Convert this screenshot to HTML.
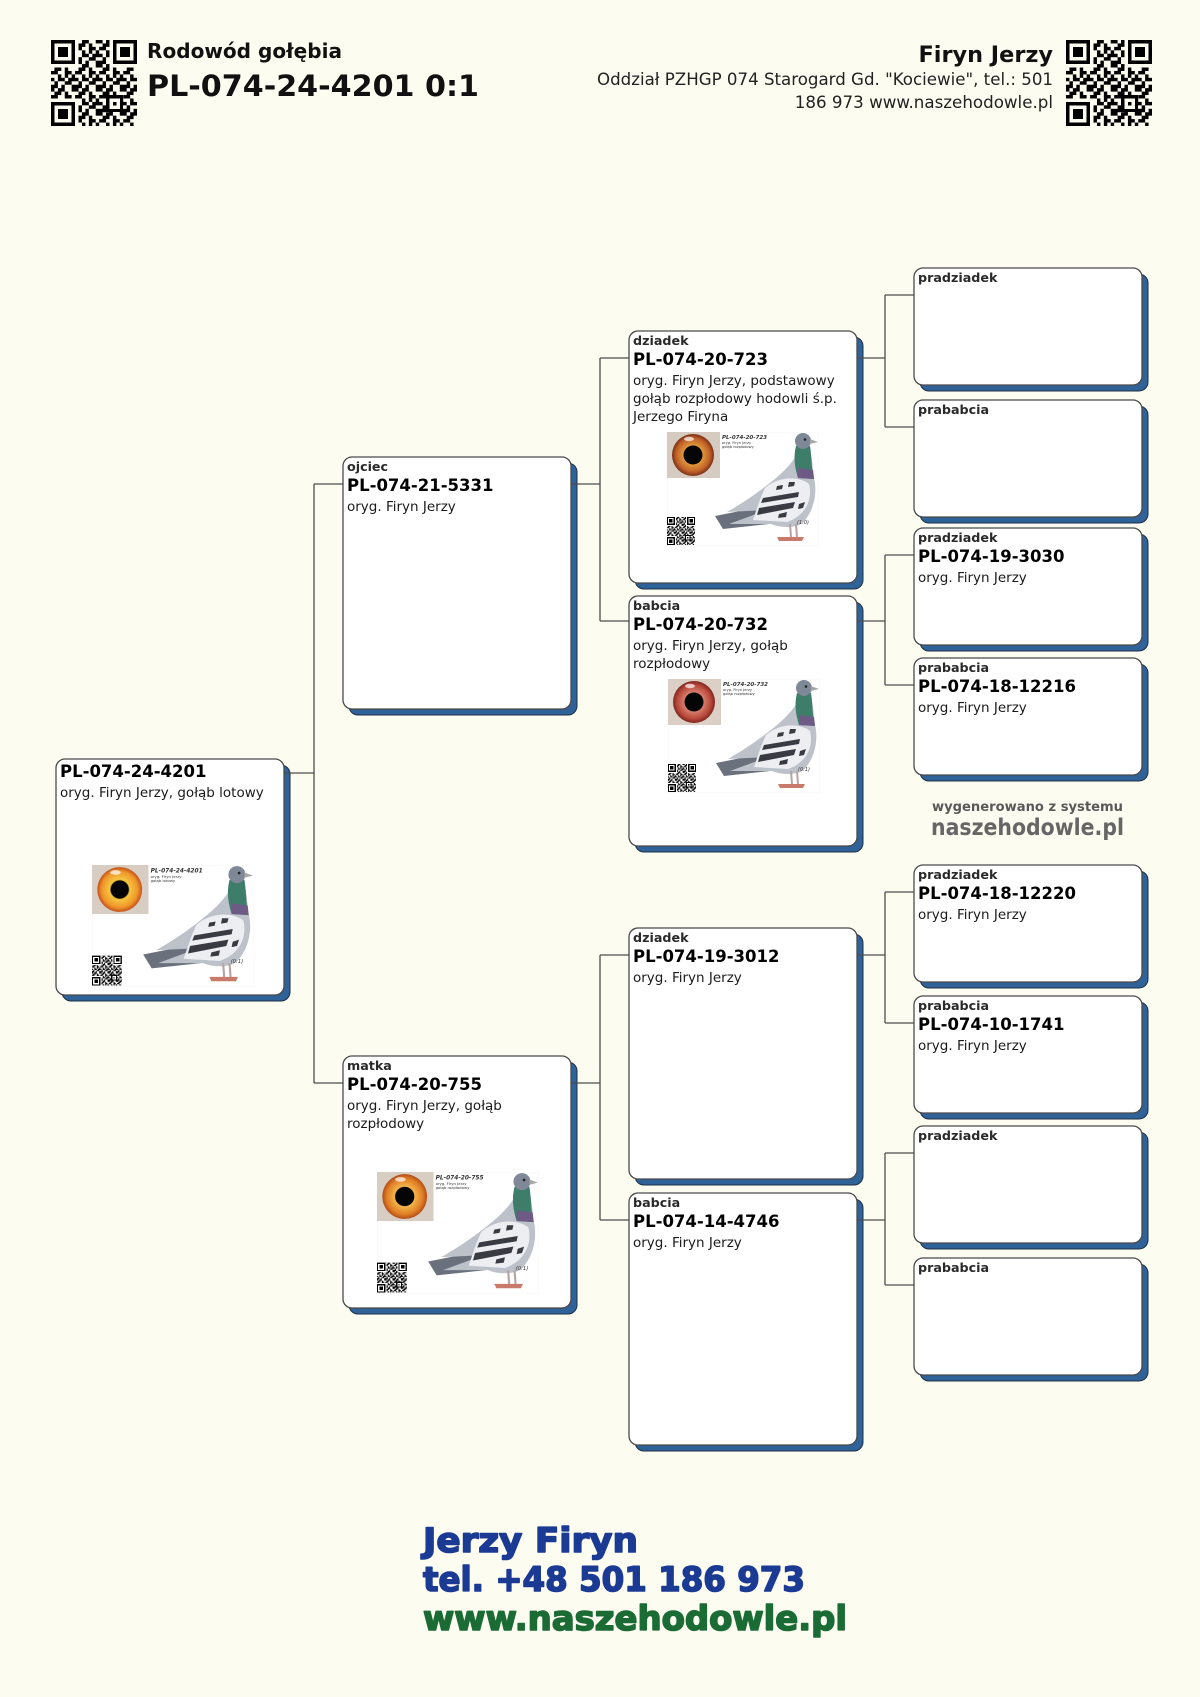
<!DOCTYPE html>
<html>
<head>
<meta charset="utf-8">
<style>
html,body{margin:0;padding:0;background:#fdfcf0;}
body{width:1200px;height:1697px;overflow:hidden;}
svg{display:block;}
.sh{fill:#30629a;stroke:#1c3047;stroke-width:1;}
.bx{fill:#ffffff;stroke:#4a4a4a;stroke-width:1.3;}
.cn{fill:none;stroke:#4d4d4d;stroke-width:1.3;}
.lb{font-family:"DejaVu Sans","Liberation Sans",sans-serif;font-weight:bold;font-size:12.7px;fill:#2a2a2a;}
.id{font-family:"DejaVu Sans","Liberation Sans",sans-serif;font-weight:bold;font-size:16.5px;fill:#000;}
.ds{font-family:"DejaVu Sans","Liberation Sans",sans-serif;font-size:13.5px;fill:#1a1a1a;}
.tn{font-family:"DejaVu Sans","Liberation Sans",sans-serif;fill:#333;}
</style>
</head>
<body>
<svg width="1200" height="1697" viewBox="0 0 1200 1697" xmlns="http://www.w3.org/2000/svg">
<defs>
  <pattern id="qrp" width="7" height="7" patternUnits="userSpaceOnUse">
    <path fill="#000" d="M0 0h1v1h-1z M2 0h2v1h-2z M6 0h1v1h-1z M1 1h2v1h-2z M4 1h1v1h-1z M0 2h2v1h-2z M4 2h2v1h-2z M2 3h1v1h-1z M4 3h1v1h-1z M6 3h1v1h-1z M0 4h1v1h-1z M2 4h2v1h-2z M5 4h2v1h-2z M1 5h1v1h-1z M4 5h2v1h-2z M0 6h2v1h-2z M3 6h1v1h-1z M6 6h1v1h-1z"/>
  </pattern>
  <symbol id="qr" viewBox="0 0 25 25" shape-rendering="crispEdges">
    <rect width="25" height="25" fill="url(#qrp)"/>
    <path d="M0 0h8v8h-8z M17 0h8v8h-8z M0 17h8v8h-8z" fill="currentColor"/>
    <path d="M0 0h7v7h-7z M18 0h7v7h-7z M0 18h7v7h-7z" fill="#000"/>
    <path d="M1 1h5v5h-5z M19 1h5v5h-5z M1 19h5v5h-5z" fill="currentColor"/>
    <path d="M2 2h3v3h-3z M20 2h3v3h-3z M2 20h3v3h-3z" fill="#000"/>
    <path d="M16 16h5v5h-5z" fill="#000"/>
    <path d="M17 17h3v3h-3z" fill="currentColor"/>
    <path d="M18 18h1v1h-1z" fill="#000"/>
  </symbol>
  <radialGradient id="irisA" cx="50%" cy="50%" r="50%">
    <stop offset="0.35" stop-color="#3a2a10"/>
    <stop offset="0.45" stop-color="#f4c640"/>
    <stop offset="0.8" stop-color="#f0962a"/>
    <stop offset="1" stop-color="#c4521a"/>
  </radialGradient>
  <radialGradient id="irisB" cx="50%" cy="50%" r="50%">
    <stop offset="0.35" stop-color="#2a1608"/>
    <stop offset="0.45" stop-color="#e09a3a"/>
    <stop offset="0.8" stop-color="#c0602a"/>
    <stop offset="1" stop-color="#7a3014"/>
  </radialGradient>
  <radialGradient id="irisC" cx="50%" cy="50%" r="50%">
    <stop offset="0.35" stop-color="#2a0e0a"/>
    <stop offset="0.45" stop-color="#d88070"/>
    <stop offset="0.8" stop-color="#b8483a"/>
    <stop offset="1" stop-color="#7e2620"/>
  </radialGradient>
  <radialGradient id="irisD" cx="50%" cy="50%" r="50%">
    <stop offset="0.35" stop-color="#2e1a08"/>
    <stop offset="0.45" stop-color="#f2b44a"/>
    <stop offset="0.8" stop-color="#e07e26"/>
    <stop offset="1" stop-color="#b24e18"/>
  </radialGradient>
  <symbol id="pigeon" viewBox="0 0 152 114">
    <rect x="0" y="0" width="152" height="114" fill="#fff" stroke="#eeeeee" stroke-width="0.6"/>
    <path d="M48 84 L98 74 L102 92 L56 97 Z" fill="#6b717c"/>
    <path d="M131 20 C124 34 112 44 99 54 C86 64 74 72 60 80 L100 78 L62 92 L104 92 C114 96 126 96 134 92 C146 82 151 62 147 46 C146 36 145 28 144 22 Z" fill="#bcc1ca"/>
    <path d="M98 56 C112 44 132 44 142 52 C146 68 138 84 120 90 L86 88 C90 76 94 64 98 56 Z" fill="#eceef2"/>
    <path d="M92 76 L128 70 L126 76 L90 83 Z M96 66 L132 60 L131 65 L94 71 Z M110 54 L116 53 L115 57 L109 58 Z M122 50 L128 50 L127 54 L121 55 Z M132 72 L138 70 L136 76 L131 77 Z M112 82 L120 80 L119 85 L111 86 Z" fill="#383b42"/>
    <path d="M129 14 C126 26 128 36 131 46 L147 47 C144 36 145 26 143 14 Z" fill="#3d7d69"/>
    <path d="M131 36 L146 38 L147 47 L131 46 Z" fill="#6d5b86"/>
    <circle cx="136" cy="9" r="8" fill="#7f8897"/>
    <path d="M143 7 L151 10 L143 12 Z" fill="#a8a8a8"/>
    <circle cx="138" cy="7.5" r="1.3" fill="#222"/>
    <path d="M123 92 L124 105 M129 92 L130 105" stroke="#b7a3a3" stroke-width="2"/>
    <path d="M110 105 L137 105 L135 109 L112 109 Z" fill="#c97a6b"/>
    <use href="#qr" x="0" y="85" width="28" height="28" color="#fff"/>
  </symbol>
</defs>

<rect x="0" y="0" width="1200" height="1697" fill="#fdfcf0"/>

<!-- Header -->
<use href="#qr" x="51" y="40" width="86" height="86" color="#fdfcf0"/>
<text x="147" y="58" font-family="DejaVu Sans, Liberation Sans, sans-serif" font-weight="bold" font-size="20" fill="#111" textLength="195" lengthAdjust="spacingAndGlyphs">Rodowód gołębia</text>
<text x="147" y="96" font-family="DejaVu Sans, Liberation Sans, sans-serif" font-weight="bold" font-size="29.5" fill="#111" textLength="332" lengthAdjust="spacingAndGlyphs">PL-074-24-4201 0:1</text>

<use href="#qr" x="1066" y="40" width="86" height="86" color="#fdfcf0"/>
<text x="1053" y="62" text-anchor="end" font-family="DejaVu Sans, Liberation Sans, sans-serif" font-weight="bold" font-size="22.4" fill="#111">Firyn Jerzy</text>
<text x="1053" y="85" text-anchor="end" font-family="DejaVu Sans, Liberation Sans, sans-serif" font-size="16.7" fill="#222" textLength="456" lengthAdjust="spacingAndGlyphs">Oddział PZHGP 074 Starogard Gd. "Kociewie", tel.: 501</text>
<text x="1053" y="108" text-anchor="end" font-family="DejaVu Sans, Liberation Sans, sans-serif" font-size="16.7" fill="#222">186 973 www.naszehodowle.pl</text>

<!-- Shadows -->
<rect class="sh" x="62" y="765" width="228" height="236" rx="9"/>
<rect class="sh" x="349" y="463" width="228" height="252" rx="9"/>
<rect class="sh" x="349" y="1062" width="228" height="252" rx="9"/>
<rect class="sh" x="635" y="337" width="228" height="252" rx="9"/>
<rect class="sh" x="635" y="602" width="228" height="250" rx="9"/>
<rect class="sh" x="635" y="934" width="228" height="251" rx="9"/>
<rect class="sh" x="635" y="1199" width="228" height="252" rx="9"/>
<rect class="sh" x="920" y="274" width="228" height="117" rx="9"/>
<rect class="sh" x="920" y="406" width="228" height="117" rx="9"/>
<rect class="sh" x="920" y="534" width="228" height="117" rx="9"/>
<rect class="sh" x="920" y="664" width="228" height="117" rx="9"/>
<rect class="sh" x="920" y="871" width="228" height="117" rx="9"/>
<rect class="sh" x="920" y="1002" width="228" height="117" rx="9"/>
<rect class="sh" x="920" y="1132" width="228" height="117" rx="9"/>
<rect class="sh" x="920" y="1264" width="228" height="117" rx="9"/>

<!-- Boxes -->
<rect class="bx" x="56" y="759" width="228" height="236" rx="9"/>
<rect class="bx" x="343" y="457" width="228" height="252" rx="9"/>
<rect class="bx" x="343" y="1056" width="228" height="252" rx="9"/>
<rect class="bx" x="629" y="331" width="228" height="252" rx="9"/>
<rect class="bx" x="629" y="596" width="228" height="250" rx="9"/>
<rect class="bx" x="629" y="928" width="228" height="251" rx="9"/>
<rect class="bx" x="629" y="1193" width="228" height="252" rx="9"/>
<rect class="bx" x="914" y="268" width="228" height="117" rx="9"/>
<rect class="bx" x="914" y="400" width="228" height="117" rx="9"/>
<rect class="bx" x="914" y="528" width="228" height="117" rx="9"/>
<rect class="bx" x="914" y="658" width="228" height="117" rx="9"/>
<rect class="bx" x="914" y="865" width="228" height="117" rx="9"/>
<rect class="bx" x="914" y="996" width="228" height="117" rx="9"/>
<rect class="bx" x="914" y="1126" width="228" height="117" rx="9"/>
<rect class="bx" x="914" y="1258" width="228" height="117" rx="9"/>

<!-- Connectors -->
<path class="cn" d="M284 773 H314 M314 484 V1083 M314 484 H343 M314 1083 H343"/>
<path class="cn" d="M571 484 H600 M600 358 V621 M600 358 H629 M600 621 H629"/>
<path class="cn" d="M571 1083 H600 M600 955 V1220 M600 955 H629 M600 1220 H629"/>
<path class="cn" d="M857 358 H885 M885 295 V427 M885 295 H914 M885 427 H914"/>
<path class="cn" d="M857 621 H885 M885 555 V685 M885 555 H914 M885 685 H914"/>
<path class="cn" d="M857 955 H885 M885 892 V1023 M885 892 H914 M885 1023 H914"/>
<path class="cn" d="M857 1220 H885 M885 1153 V1285 M885 1153 H914 M885 1285 H914"/>

<!-- Root -->
<text class="id" x="60" y="777">PL-074-24-4201</text>
<text class="ds" x="60" y="797">oryg. Firyn Jerzy, gołąb lotowy</text>

<!-- ojciec -->
<text class="lb" x="347" y="471">ojciec</text>
<text class="id" x="347" y="491">PL-074-21-5331</text>
<text class="ds" x="347" y="511">oryg. Firyn Jerzy</text>

<!-- matka -->
<text class="lb" x="347" y="1070">matka</text>
<text class="id" x="347" y="1090">PL-074-20-755</text>
<text class="ds" x="347" y="1110">oryg. Firyn Jerzy, gołąb</text>
<text class="ds" x="347" y="1128">rozpłodowy</text>

<!-- dziadek 1 -->
<text class="lb" x="633" y="345">dziadek</text>
<text class="id" x="633" y="365">PL-074-20-723</text>
<text class="ds" x="633" y="385">oryg. Firyn Jerzy, podstawowy</text>
<text class="ds" x="633" y="403">gołąb rozpłodowy hodowli ś.p.</text>
<text class="ds" x="633" y="421">Jerzego Firyna</text>

<!-- babcia 1 -->
<text class="lb" x="633" y="610">babcia</text>
<text class="id" x="633" y="630">PL-074-20-732</text>
<text class="ds" x="633" y="650">oryg. Firyn Jerzy, gołąb</text>
<text class="ds" x="633" y="668">rozpłodowy</text>

<!-- dziadek 2 -->
<text class="lb" x="633" y="942">dziadek</text>
<text class="id" x="633" y="962">PL-074-19-3012</text>
<text class="ds" x="633" y="982">oryg. Firyn Jerzy</text>

<!-- babcia 2 -->
<text class="lb" x="633" y="1207">babcia</text>
<text class="id" x="633" y="1227">PL-074-14-4746</text>
<text class="ds" x="633" y="1247">oryg. Firyn Jerzy</text>

<!-- great grandparents -->
<text class="lb" x="918" y="282">pradziadek</text>
<text class="lb" x="918" y="414">prababcia</text>

<text class="lb" x="918" y="542">pradziadek</text>
<text class="id" x="918" y="562">PL-074-19-3030</text>
<text class="ds" x="918" y="582">oryg. Firyn Jerzy</text>

<text class="lb" x="918" y="672">prababcia</text>
<text class="id" x="918" y="692">PL-074-18-12216</text>
<text class="ds" x="918" y="712">oryg. Firyn Jerzy</text>

<text class="lb" x="918" y="879">pradziadek</text>
<text class="id" x="918" y="899">PL-074-18-12220</text>
<text class="ds" x="918" y="919">oryg. Firyn Jerzy</text>

<text class="lb" x="918" y="1010">prababcia</text>
<text class="id" x="918" y="1030">PL-074-10-1741</text>
<text class="ds" x="918" y="1050">oryg. Firyn Jerzy</text>

<text class="lb" x="918" y="1140">pradziadek</text>
<text class="lb" x="918" y="1272">prababcia</text>

<!-- Images -->
<g transform="translate(92,865) scale(1.066)">
  <use href="#pigeon" x="0" y="0" width="152" height="114"/>
  <rect x="0" y="0" width="53" height="46" fill="#d8cdc2"/>
  <circle cx="26" cy="23" r="21" fill="url(#irisA)"/>
  <circle cx="26" cy="23" r="8.5" fill="#050505"/>
  <ellipse cx="22" cy="7" rx="5" ry="2.2" fill="#fff" opacity="0.7"/>
  <text class="tn" x="55" y="7" font-size="5.5" font-style="italic" font-weight="bold">PL-074-24-4201</text>
  <text class="tn" x="55" y="12" font-size="3.6">oryg. Firyn Jerzy</text>
  <text class="tn" x="55" y="16" font-size="3.6">gołąb lotowy</text>
  <text class="tn" x="130" y="92" font-size="5" font-style="italic">(0:1)</text>
</g>

<g transform="translate(377,1172) scale(1.066)">
  <use href="#pigeon" x="0" y="0" width="152" height="114"/>
  <rect x="0" y="0" width="53" height="46" fill="#d8cdc2"/>
  <circle cx="26" cy="23" r="21" fill="url(#irisD)"/>
  <circle cx="26" cy="23" r="9" fill="#050505"/>
  <ellipse cx="22" cy="7" rx="5" ry="2.2" fill="#fff" opacity="0.7"/>
  <text class="tn" x="55" y="7" font-size="5.5" font-style="italic" font-weight="bold">PL-074-20-755</text>
  <text class="tn" x="55" y="12" font-size="3.6">oryg. Firyn Jerzy</text>
  <text class="tn" x="55" y="16" font-size="3.6">gołąb rozpłodowy</text>
  <text class="tn" x="130" y="92" font-size="5" font-style="italic">(0:1)</text>
</g>

<g transform="translate(667,432) scale(1.0)">
  <use href="#pigeon" x="0" y="0" width="152" height="114"/>
  <rect x="0" y="0" width="53" height="46" fill="#d6cbc0"/>
  <circle cx="26" cy="23" r="21" fill="url(#irisB)"/>
  <circle cx="26" cy="23" r="9.5" fill="#050505"/>
  <ellipse cx="22" cy="7" rx="5" ry="2.2" fill="#fff" opacity="0.7"/>
  <text class="tn" x="55" y="7" font-size="5.5" font-style="italic" font-weight="bold">PL-074-20-723</text>
  <text class="tn" x="55" y="12" font-size="3.6">oryg. Firyn Jerzy</text>
  <text class="tn" x="55" y="16" font-size="3.6">gołąb rozpłodowy</text>
  <text class="tn" x="130" y="92" font-size="5" font-style="italic">(1:0)</text>
</g>

<g transform="translate(668,679) scale(1.0)">
  <use href="#pigeon" x="0" y="0" width="152" height="114"/>
  <rect x="0" y="0" width="53" height="46" fill="#dcd0c6"/>
  <circle cx="26" cy="23" r="21" fill="url(#irisC)"/>
  <circle cx="26" cy="23" r="9.5" fill="#050505"/>
  <ellipse cx="22" cy="7" rx="5" ry="2.2" fill="#fff" opacity="0.7"/>
  <text class="tn" x="55" y="7" font-size="5.5" font-style="italic" font-weight="bold">PL-074-20-732</text>
  <text class="tn" x="55" y="12" font-size="3.6">oryg. Firyn Jerzy</text>
  <text class="tn" x="55" y="16" font-size="3.6">gołąb rozpłodowy</text>
  <text class="tn" x="130" y="92" font-size="5" font-style="italic">(0:1)</text>
</g>

<!-- Watermark -->
<text x="932" y="811" font-family="DejaVu Sans, Liberation Sans, sans-serif" font-weight="bold" font-size="13" fill="#595959" textLength="191" lengthAdjust="spacingAndGlyphs">wygenerowano z systemu</text>
<text x="931" y="835" font-family="DejaVu Sans, Liberation Sans, sans-serif" font-weight="bold" font-size="23" fill="#666666" textLength="193" lengthAdjust="spacingAndGlyphs">naszehodowle.pl</text>

<!-- Footer -->
<g font-family="DejaVu Sans, Liberation Sans, sans-serif" font-weight="bold" font-size="34" stroke-width="1.6" stroke-linejoin="round">
<text x="423" y="1552" fill="#1b3a94" stroke="#1b3a94" textLength="215" lengthAdjust="spacingAndGlyphs">Jerzy Firyn</text>
<text x="423" y="1591" fill="#1b3a94" stroke="#1b3a94" textLength="382" lengthAdjust="spacingAndGlyphs">tel. +48 501 186 973</text>
<text x="423" y="1630" fill="#1b6b35" stroke="#1b6b35" textLength="424" lengthAdjust="spacingAndGlyphs">www.naszehodowle.pl</text>
</g>
</svg>
</body>
</html>
